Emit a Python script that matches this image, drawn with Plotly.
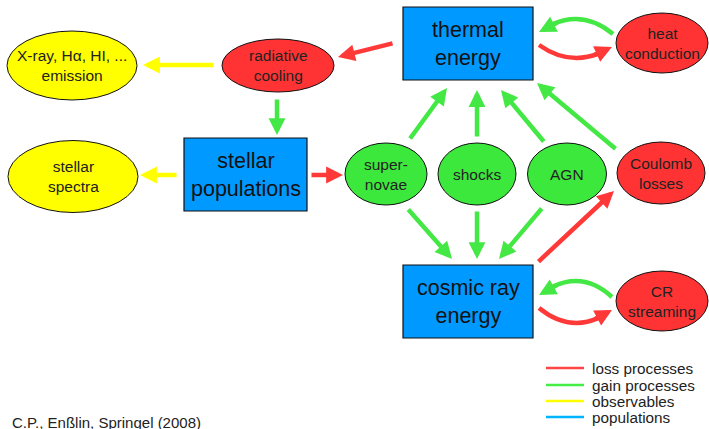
import plotly.graph_objects as go

# ---- node data ----
box_labels = ["thermal<br>energy", "stellar<br>populations", "cosmic ray<br>energy"]
box_x0 = [403, 184, 403]
box_x1 = [533, 307, 533]
box_y0 = [7, 138, 265]
box_y1 = [80, 211, 338]

ell_labels = ["X-ray, Hα, HI, ...<br>emission", "radiative<br>cooling", "heat<br>conduction",
              "stellar<br>spectra", "super-<br>novae", "shocks", "AGN", "Coulomb<br>losses",
              "CR<br>streaming"]
ell_cx = [72, 278, 662, 73, 386, 477, 567, 661, 662]
ell_cy = [65.5, 65.5, 43, 176.5, 174, 174, 174, 173, 301]
ell_rx = [65, 56, 46, 65, 41, 39, 39.5, 44, 46]
ell_ry = [34.5, 26.5, 30, 36, 31, 31, 31, 31, 30]
ell_kind = ["obs", "loss", "loss", "obs", "gain", "gain", "gain", "loss", "loss"]

# straight arrows: (tail x, tail y, tip x, tip y, kind)
arr_tail_x = [215, 394, 277, 178, 310, 409, 477, 545, 617, 407, 477, 543, 537]
arr_tail_y = [65, 43, 98, 175, 175, 140, 138, 143, 150, 208, 210, 207, 263]
arr_tip_x = [143, 338, 277, 140, 343, 447, 477, 501, 537, 452, 477, 499, 614]
arr_tip_y = [65, 57, 135, 175, 175, 88, 90, 90, 83, 259, 259, 259, 191]
arr_kind = ["obs", "loss", "gain", "obs", "loss", "gain", "gain", "gain", "gain",
            "gain", "gain", "gain", "loss"]

# curved arrows: start, mid (apex), end
crv_x0 = [613, 539, 612, 539]
crv_y0 = [34, 45, 297, 308]
crv_xm = [577, 575, 577, 575]
crv_ym = [19, 58, 281, 323]
crv_x1 = [539, 612, 539, 612]
crv_y1 = [32, 47, 295, 310]
crv_kind = ["gain", "loss", "gain", "loss"]

legend_labels = ["loss processes", "gain processes", "observables", "populations"]
legend_colors = ["#ff4444", "#44ee44", "#ffff00", "#00b4ff"]
caption = "C.P., Enßlin, Springel (2008)"

# ---- styles ----
fill = {"obs": "#ffff00", "loss": "#ff3333", "gain": "#3de83d"}
arrow_col = {"obs": "#ffff00", "loss": "#ff3838", "gain": "#44e844"}
FONT = "Liberation Sans"

fig = go.Figure()
fig.add_trace(go.Scatter(x=[0, 709], y=[0, 429], mode="markers",
                         marker=dict(opacity=0), hoverinfo="skip", showlegend=False))

shapes = []
annotations = []

for lab, x0, x1, y0, y1 in zip(box_labels, box_x0, box_x1, box_y0, box_y1):
    shapes.append(dict(type="rect", x0=x0, x1=x1, y0=y0, y1=y1, xref="x", yref="y",
                       fillcolor="#0099ff", line=dict(color="#111", width=1.2)))
    annotations.append(dict(x=(x0 + x1) / 2, y=(y0 + y1) / 2, text=lab, showarrow=False,
                            font=dict(family=FONT, size=21.5, color="#111"), xref="x", yref="y"))

for lab, cx, cy, rx, ry, k in zip(ell_labels, ell_cx, ell_cy, ell_rx, ell_ry, ell_kind):
    shapes.append(dict(type="circle", x0=cx - rx, x1=cx + rx, y0=cy - ry, y1=cy + ry,
                       xref="x", yref="y", fillcolor=fill[k], line=dict(color="#111", width=1)))
    annotations.append(dict(x=cx, y=cy, text=lab, showarrow=False,
                            font=dict(family=FONT, size=15.5, color="#222"), xref="x", yref="y"))

for tx, ty, hx, hy, k in zip(arr_tail_x, arr_tail_y, arr_tip_x, arr_tip_y, arr_kind):
    annotations.append(dict(x=hx, y=hy, ax=tx, ay=ty, xref="x", yref="y", axref="x", ayref="y",
                            text="", showarrow=True, arrowhead=2, arrowsize=0.75, arrowwidth=4.5,
                            arrowcolor=arrow_col[k], standoff=0, startstandoff=0))


def bez(p0, p1, p2, t):
    return (1 - t) ** 2 * p0 + 2 * (1 - t) * t * p1 + t ** 2 * p2


for x0, y0, xm, ym, x1, y1, k in zip(crv_x0, crv_y0, crv_xm, crv_ym, crv_x1, crv_y1, crv_kind):
    cx = 2 * xm - 0.5 * (x0 + x1)
    cy = 2 * ym - 0.5 * (y0 + y1)
    te = 0.82
    ex, ey = bez(x0, cx, x1, te), bez(y0, cy, y1, te)
    scx, scy = (1 - te) * x0 + te * cx, (1 - te) * y0 + te * cy
    shapes.append(dict(type="path", path=f"M{x0},{y0} Q{scx},{scy} {ex},{ey}",
                       xref="x", yref="y", line=dict(color=arrow_col[k], width=4.5)))
    tx, ty = bez(x0, cx, x1, 0.75), bez(y0, cy, y1, 0.75)
    annotations.append(dict(x=x1, y=y1, ax=tx, ay=ty, xref="x", yref="y", axref="x", ayref="y",
                            text="", showarrow=True, arrowhead=2, arrowsize=0.75, arrowwidth=4.5,
                            arrowcolor=arrow_col[k], standoff=0, startstandoff=0))

leg_y = [368, 385, 401, 417]
for lab, col, ly in zip(legend_labels, legend_colors, leg_y):
    shapes.append(dict(type="line", x0=546, x1=584, y0=ly, y1=ly, xref="x", yref="y",
                       line=dict(color=col, width=2.5)))
    annotations.append(dict(x=590, y=ly, text=lab, showarrow=False, xanchor="left",
                            font=dict(family=FONT, size=15.3, color="#222"), xref="x", yref="y"))

annotations.append(dict(x=10, y=422, text=caption, showarrow=False, xanchor="left",
                        font=dict(family=FONT, size=15, color="#222"), xref="x", yref="y"))

fig.update_layout(width=709, height=429, margin=dict(l=0, r=0, t=0, b=0),
                  plot_bgcolor="white", paper_bgcolor="white", showlegend=False,
                  shapes=shapes, annotations=annotations)
fig.update_xaxes(range=[0, 709], visible=False, fixedrange=True)
fig.update_yaxes(range=[429, 0], visible=False, fixedrange=True)
fig.write_html("out.html", config={"displayModeBar": False},
               post_script="document.body.style.margin='0';document.body.style.overflow='hidden';")
